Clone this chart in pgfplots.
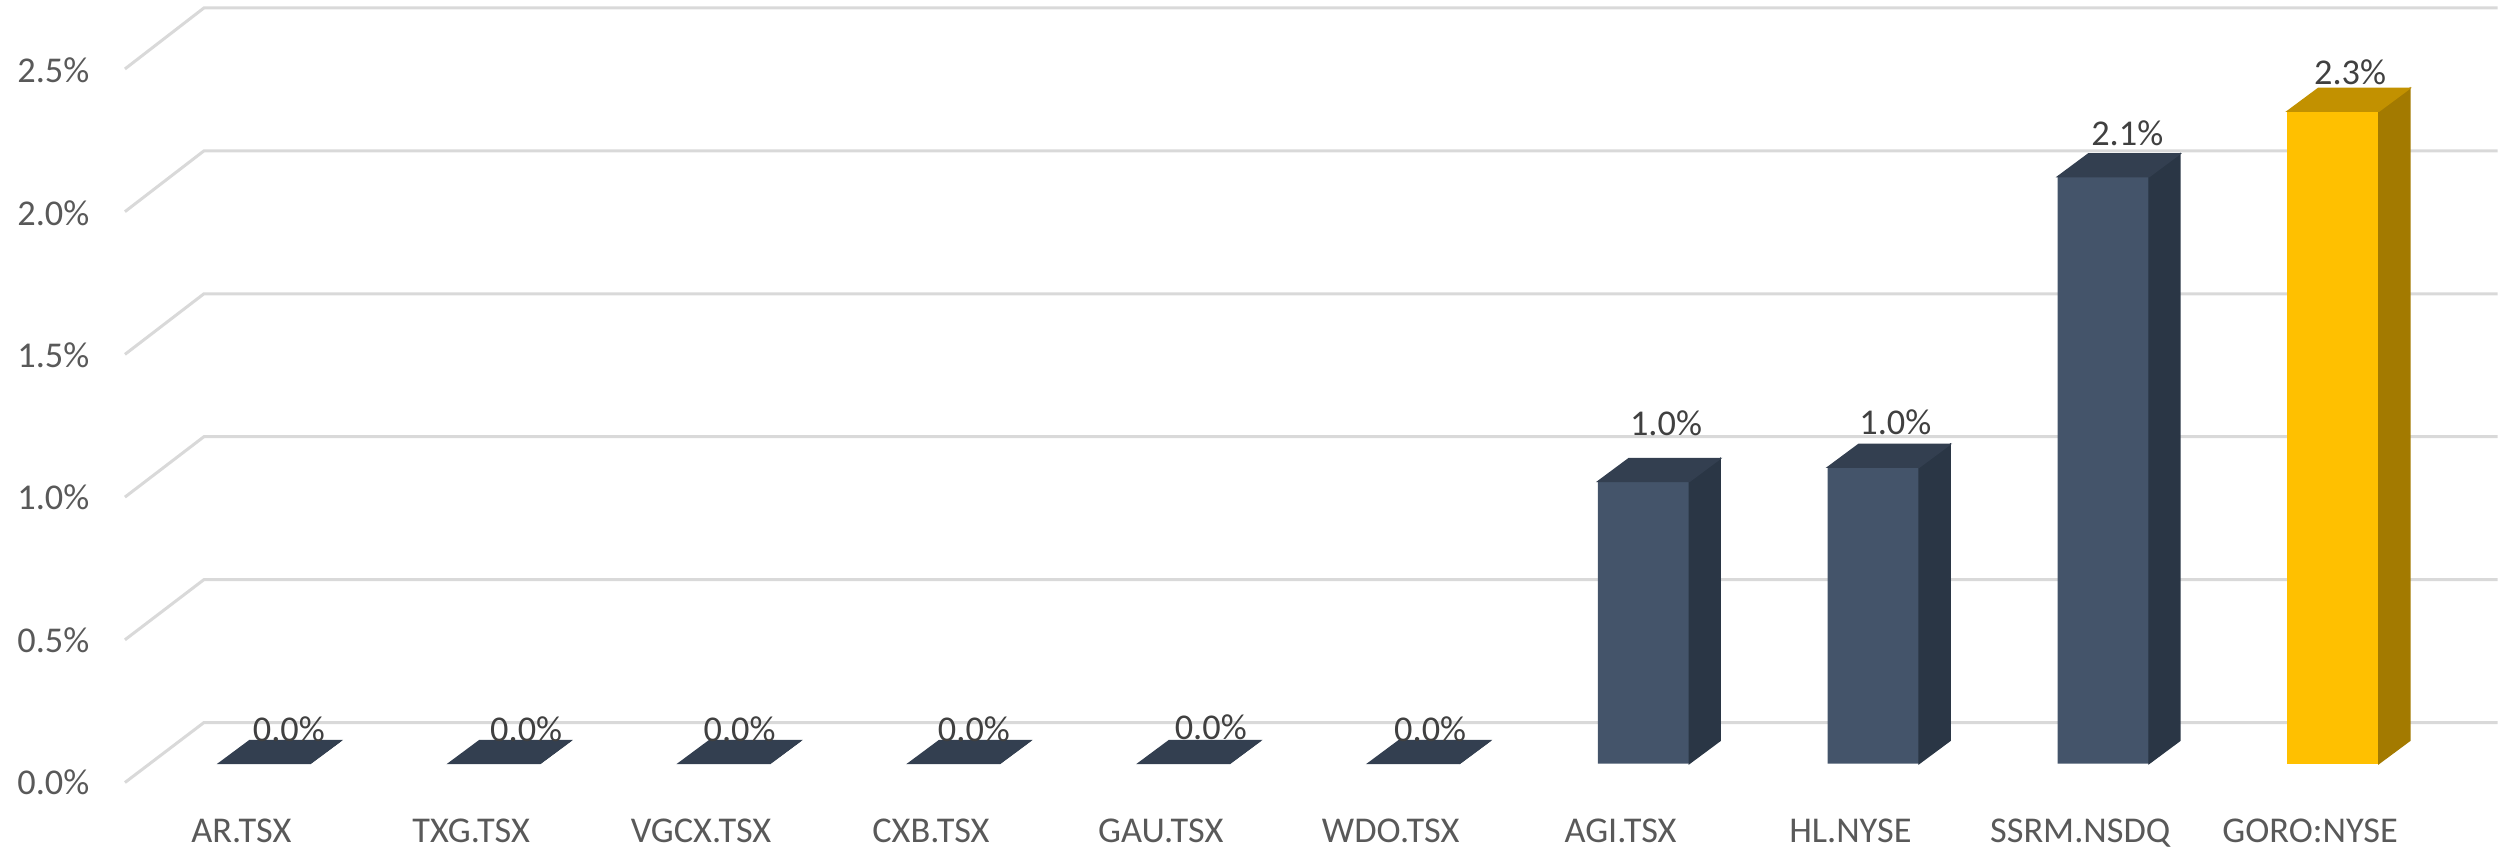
\documentclass[border=0pt]{standalone}
\usepackage{pgfplots}
\pgfplotsset{compat=1.18}
\usepackage{pgfplotstable}
\usepackage{fontspec}
\setmainfont{Carlito}
\definecolor{bfront}{HTML}{44546A}
\definecolor{btop}{HTML}{333F50}
\definecolor{bside}{HTML}{2A3645}
\definecolor{gfront}{HTML}{FFC000}
\definecolor{gtop}{HTML}{C29100}
\definecolor{gside}{HTML}{A37A00}
\definecolor{gridc}{HTML}{D9D9D9}
\definecolor{tickc}{HTML}{595959}
\definecolor{labc}{HTML}{404040}
\pgfdeclareplotmark{empty}{}

% x = category index, v = value in %, lx/ly = label offset (px)
\pgfplotstableread{
x v lx ly
0 0 24.5 22
1 0 32 22
2 0 15.5 22
3 0 20 22
4 0 27 24
5 0 16.5 22
6 0.99 22.5 46
7 1.04 22 33
8 2.06 24 31
}\bluebars
\pgfplotstableread{
x v lx ly
9 2.29 17 27
}\goldbars

\pgfplotsset{
  bar3d/.style 2 args={
    scatter, only marks, mark=empty,
    visualization depends on={rawy \as \rawv},
    scatter/@pre marker code/.code={%
      \fill[#1] (13.725pt,0pt) -- ++(9.3pt,6.9pt) -- ++(0pt,{-\rawv*85.5pt}) -- ++(-9.3pt,-6.9pt) -- cycle;
      \fill[#2] (-13.725pt,0pt) -- (13.725pt,0pt) -- ++(9.3pt,6.9pt) -- ++(-27.45pt,0pt) -- cycle;
    },
    scatter/@post marker code/.code={},
  },
  barlabels/.style={
    only marks, mark=empty,
    point meta=explicit,
    nodes near coords={\pgfmathprintnumber[fixed,fixed zerofill,precision=1]{\pgfplotspointmeta}\%},
    nodes near coords style={anchor=base, inner sep=0pt,
      font=\fontsize{10.9}{13}\selectfont, text=labc},
  },
}

\begin{document}
\begin{tikzpicture}
\begin{axis}[
  width=749.7pt, height=255pt, scale only axis,
  xmin=-1.15, xmax=9.7152, ymin=-0.30175, ymax=2.6807,
  axis line style={draw=none}, major tick length=0pt, tick style={draw=none},
  xtick={0,1,2,3,4,5,6,7,8,9},
  xticklabels={AR.TSX,TXG.TSX,VGCX.TSX,CXB.TSX,GAU.TSX,WDO.TSX,AGI.TSX,HL.NYSE,SSRM.NSDQ,GORO:NYSE},
  ytick={0,0.5,1,1.5,2,2.5},
  yticklabel={\pgfmathprintnumber[fixed,fixed zerofill,precision=1]{\tick}\%},
  /pgf/number format/assume math mode=true,
  tick label style={font=\fontsize{10.9}{13}\selectfont, text=tickc, inner sep=0pt},
  xticklabel style={anchor=base, yshift=2.1pt, xshift=-6.9pt},
  yticklabel style={anchor=east, xshift=27pt, yshift=-5.7pt},
  clip=false,
]
% back-wall gridlines with perspective diagonal
\pgfplotsinvokeforeach{0,0.5,1,1.5,2,2.5}{
  \draw[gridc, line width=0.9pt] (axis cs:-0.6065,{(-19+285.6*#1)/285}) -- (axis cs:-0.2630,{(41+286*#1)/285}) -- (axis cs:9.7152,{(41+286*#1)/285});
}
% front faces
\addplot[ybar, bar width=27.45pt, bar shift=0pt, fill=bfront, draw=none] table[x=x,y=v]{\bluebars};
\addplot[ybar, bar width=27.45pt, bar shift=0pt, fill=gfront, draw=none] table[x=x,y=v]{\goldbars};
% side and top faces
\addplot[bar3d={bside}{btop}] table[x=x,y=v]{\bluebars};
\addplot[bar3d={gside}{gtop}] table[x=x,y=v]{\goldbars};
% data labels
\addplot[barlabels] table[x expr=\thisrow{x}+\thisrow{lx}/230, y expr=\thisrow{v}+\thisrow{ly}/285, meta=v]{\bluebars};
\addplot[barlabels] table[x expr=\thisrow{x}+\thisrow{lx}/230, y expr=\thisrow{v}+\thisrow{ly}/285, meta=v]{\goldbars};
\end{axis}
\end{tikzpicture}
\end{document}
